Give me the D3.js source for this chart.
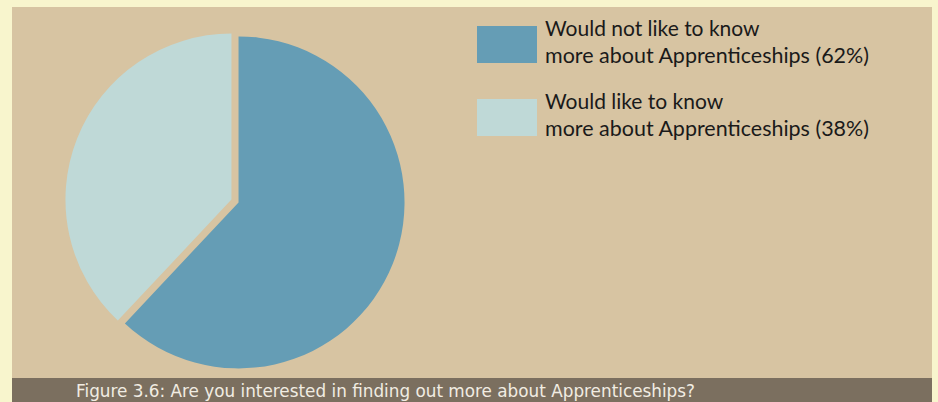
<!DOCTYPE html>
<html><head><meta charset="utf-8">
<script src="https://cdn.jsdelivr.net/npm/d3@7"></script>
<style>html,body{margin:0;padding:0;background:#f8f5cd;}svg{display:block;}</style>
</head><body>
<script>
const categories = ["Would not like to know|more about Apprenticeships (62%)", "Would like to know|more about Apprenticeships (38%)"];
const values = [62, 38];
const colors = ["#659db5", "#bfd9d7"];
const caption = "Figure 3.6: Are you interested in finding out more about Apprenticeships?";

const W = 938, H = 402;
const svg = d3.select("body").append("svg").attr("width", W).attr("height", H);
svg.append("rect").attr("width", W).attr("height", H).attr("fill", "#f8f5cd");
svg.append("rect").attr("x", 12).attr("y", 7).attr("width", 920).attr("height", H - 7).attr("fill", "#d7c4a2");
svg.append("rect").attr("x", 12).attr("y", 378).attr("width", 920).attr("height", 24).attr("fill", "#7b6f5f");

const cx = 235, cy = 201, r = 166, off = 3.8;
const pie = d3.pie().sort(null).value(d => d);
const arc = d3.arc().innerRadius(0).outerRadius(r);
const g = svg.append("g").attr("transform", `translate(${cx},${cy})`);
g.selectAll("path").data(pie(values)).join("path")
  .attr("d", arc)
  .attr("fill", (d, i) => colors[i])
  .attr("transform", d => {
    const a = (d.startAngle + d.endAngle) / 2;
    return `translate(${Math.sin(a) * off},${-Math.cos(a) * off})`;
  });

const leg = svg.append("g");
categories.forEach((c, i) => {
  const y0 = 26 + i * 73;
  leg.append("rect").attr("x", 477).attr("y", y0).attr("width", 60).attr("height", 37).attr("fill", colors[i]);
  const lines = c.split("|");
  lines.forEach((t, j) => {
    const tx = leg.append("text").attr("x", 545).attr("y", y0 + 10 + j * 27)
      .attr("font-family", "Lato, sans-serif").attr("font-size", 21)
      .attr("fill", "#1a1a1a").text(t);
    if (j === 1) tx.attr("textLength", 324).attr("lengthAdjust", "spacingAndGlyphs");
  });
});

svg.append("text").attr("x", 76).attr("y", 397)
  .attr("font-family", "'DejaVu Sans', sans-serif").attr("font-size", 17)
  .attr("fill", "#f1ece2").attr("textLength", 619).attr("lengthAdjust", "spacingAndGlyphs")
  .text(caption);
</script>
</body></html>
